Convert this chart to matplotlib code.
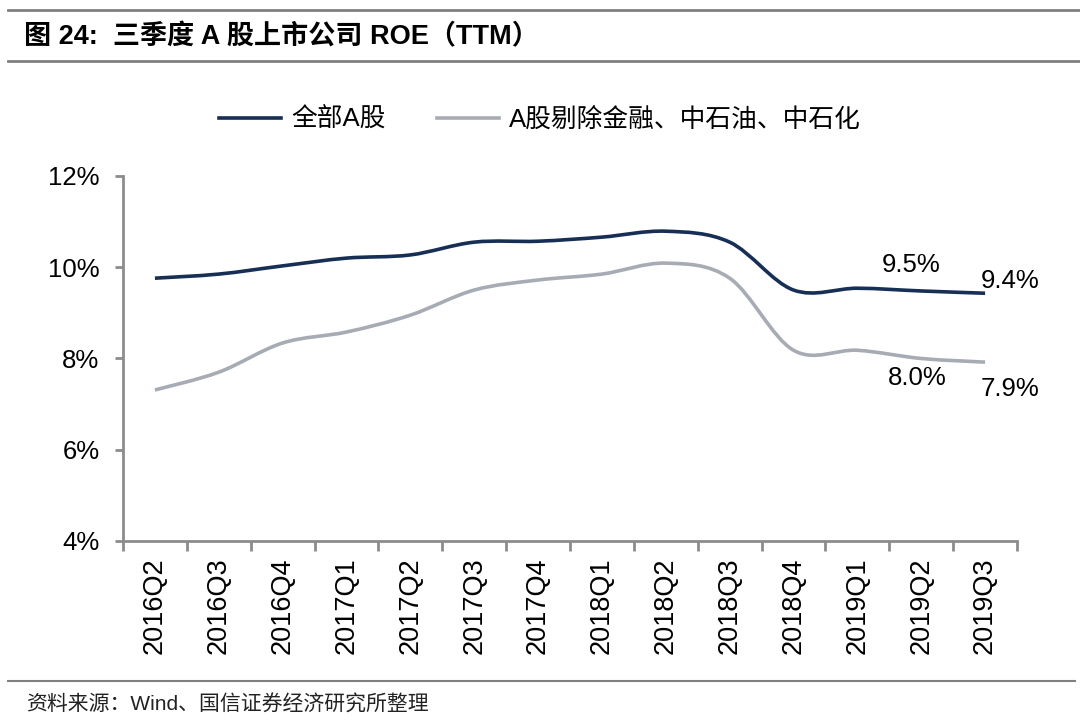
import matplotlib.pyplot as plt
from matplotlib.path import Path
from matplotlib.patches import PathPatch
from matplotlib.lines import Line2D

plt.rcParams['font.family'] = ['Liberation Sans', 'Noto Sans CJK SC', 'DejaVu Sans']

quarters = ['2016Q2', '2016Q3', '2016Q4', '2017Q1', '2017Q2', '2017Q3', '2017Q4',
            '2018Q1', '2018Q2', '2018Q3', '2018Q4', '2019Q1', '2019Q2', '2019Q3']
# ROE (TTM), %
roe_all = [9.76, 9.85, 10.03, 10.20, 10.27, 10.55, 10.57,
           10.66, 10.79, 10.55, 9.50, 9.54, 9.48, 9.43]
roe_ex = [7.31, 7.70, 8.34, 8.58, 8.95, 9.50, 9.72,
          9.85, 10.09, 9.76, 8.18, 8.18, 8.00, 7.92]

name_all = '全部A股'
name_ex = 'A股剔除金融、中石油、中石化'
c_all = '#172E55'
c_ex = '#A7ACB4'
axis_c = '#8C8C8C'


def smooth_path(xs, ys):
    # excel-like smoothed line: catmull-rom segments as cubic beziers
    pts = list(zip(xs, ys))
    verts = [pts[0]]
    codes = [Path.MOVETO]
    n = len(pts)
    for i in range(n - 1):
        p0 = pts[max(i - 1, 0)]
        p1 = pts[i]
        p2 = pts[i + 1]
        p3 = pts[min(i + 2, n - 1)]
        c1 = (p1[0] + (p2[0] - p0[0]) / 6, p1[1] + (p2[1] - p0[1]) / 6)
        c2 = (p2[0] - (p3[0] - p1[0]) / 6, p2[1] - (p3[1] - p1[1]) / 6)
        verts += [c1, c2, p2]
        codes += [Path.CURVE4] * 3
    return Path(verts, codes)


fig = plt.figure(figsize=(10.8, 7.21), dpi=100)
ax = fig.add_axes([0.1139, 0.2497, 0.8278, 0.5062])

x = list(range(len(quarters)))
ax.add_patch(PathPatch(smooth_path(x, roe_all), fill=False, edgecolor=c_all, lw=2.6))
ax.add_patch(PathPatch(smooth_path(x, roe_ex), fill=False, edgecolor=c_ex, lw=2.6))

ax.set_xlim(-0.5, len(quarters) - 0.5)
ax.set_ylim(4, 12)
ax.set_yticks([4, 6, 8, 10, 12])
ax.set_yticklabels([f'{v}%' for v in [4, 6, 8, 10, 12]], fontsize=18.5)
ax.set_xticks(x)
ax.set_xticklabels(quarters, rotation=90, fontsize=19.5)
ax.set_xticks([i - 0.5 for i in range(len(quarters) + 1)], minor=True)
ax.tick_params(axis='x', which='major', length=0, pad=12)
ax.tick_params(axis='x', which='minor', length=7, width=2, color=axis_c, direction='out')
ax.tick_params(axis='y', length=6, width=2, color=axis_c, direction='out', pad=11)

for s in ['top', 'right']:
    ax.spines[s].set_visible(False)
for s in ['left', 'bottom']:
    ax.spines[s].set_color(axis_c)
    ax.spines[s].set_linewidth(2)

# data labels
lab_kw = dict(textcoords='offset points', ha='center', va='center', fontsize=18.5)
ax.annotate(f'{roe_all[12]:.1f}%', (12, roe_all[12]), xytext=(-7, 19), **lab_kw)
ax.annotate(f'{roe_ex[12]:.1f}%', (12, roe_ex[12]), xytext=(-3, -14), **lab_kw)
ax.annotate(f'{roe_all[13]:.1f}%', (13, roe_all[13]), xytext=(18, 9), **lab_kw)
ax.annotate(f'{roe_ex[13]:.1f}%', (13, roe_ex[13]), xytext=(18, -19), **lab_kw)

handles = [Line2D([], [], color=c_all, lw=2.6), Line2D([], [], color=c_ex, lw=2.6)]
fig.legend(handles, [name_all, name_ex], loc='center', bbox_to_anchor=(0.5, 0.834),
           ncol=2, frameon=False, fontsize=18.5, handlelength=2.4, handletextpad=0.4,
           columnspacing=2.0)

# title, frame lines and source
fig.add_artist(Line2D([0.007, 1.0], [1 - 10 / 721] * 2, color='#808080', lw=2))
fig.add_artist(Line2D([0.007, 1.0], [1 - 61 / 721] * 2, color='#808080', lw=2))
fig.add_artist(Line2D([0.007, 0.995], [1 - 681 / 721] * 2, color='#808080', lw=1.5))
fig.text(0.022, 1 - 37 / 721, '图 24:  三季度 A 股上市公司 ROE（TTM）', fontsize=19.5,
         fontweight='bold', va='center', ha='left')
fig.text(0.024, 1 - 705 / 721, '资料来源：Wind、国信证券经济研究所整理', fontsize=15,
         va='center', ha='left', color='#222222')

fig.savefig('out.png', dpi=100)
